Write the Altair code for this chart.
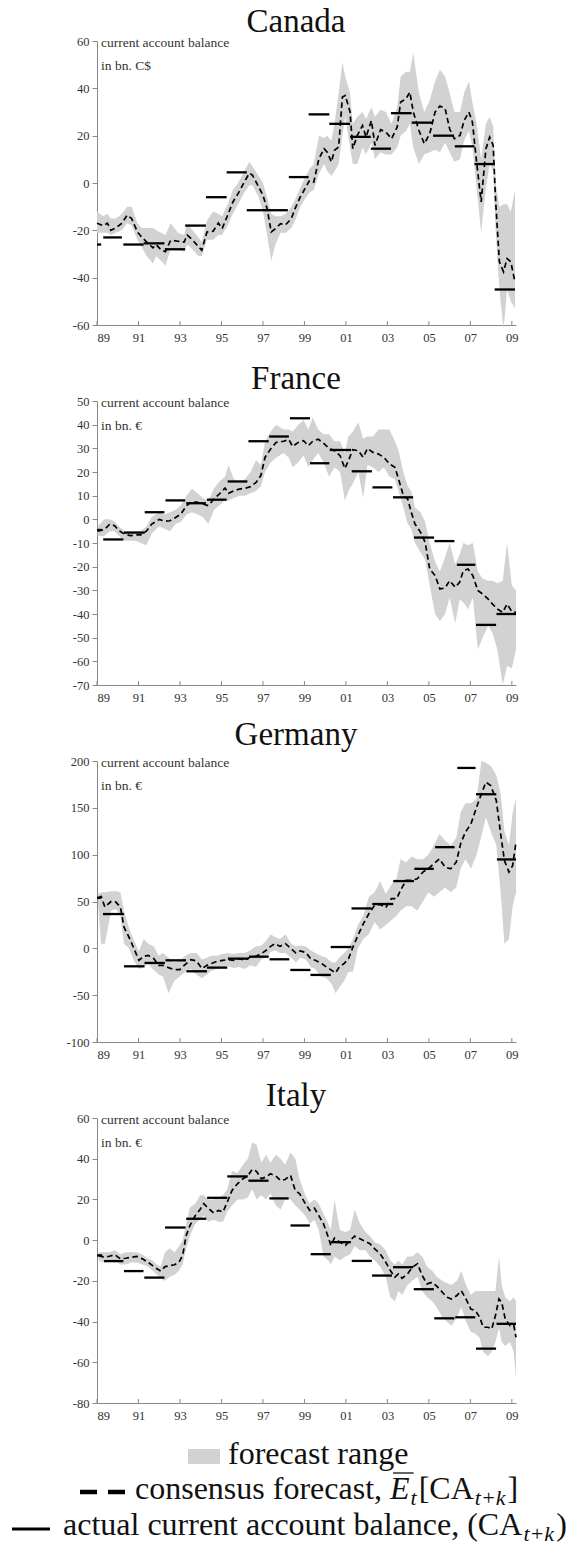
import altair as alt
import pandas as pd

FONT = "Liberation Serif"
BAND = "#d2d2d2"
AXIS_COL = "#888888"
XTICKS = [1989, 1991, 1993, 1995, 1997, 1999, 2001, 2003, 2005, 2007, 2009]
X_MIN, X_MAX = 1989, 2009.2
ANNOT = "current account balance"

# ---------------- Canada ----------------
CAN_T = [1989.0, 1989.3, 1989.5, 1989.67, 1989.9, 1990.2, 1990.45, 1990.67, 1990.95, 1991.15, 1991.4, 1991.7, 1991.85,
         1992.1, 1992.3, 1992.55, 1992.9, 1993.2, 1993.35, 1993.6, 1993.9, 1994.05, 1994.3, 1994.6, 1994.85,
         1995.03, 1995.3, 1995.55, 1995.8, 1996.1, 1996.35, 1996.5, 1996.8, 1997.0, 1997.2, 1997.4, 1997.6, 1997.85,
         1998.1, 1998.37, 1998.55, 1998.8, 1999.07, 1999.25, 1999.45, 1999.7, 1999.95,
         2000.1, 2000.3, 2000.45, 2000.65, 2000.83, 2000.97, 2001.2, 2001.33, 2001.55, 2001.8, 2001.97,
         2002.23, 2002.4, 2002.67, 2002.93, 2003.2, 2003.47, 2003.64, 2003.9, 2004.08, 2004.25, 2004.52, 2004.78,
         2005.04, 2005.3, 2005.53, 2005.78, 2006.0, 2006.23, 2006.5, 2006.7, 2006.93, 2007.1, 2007.3, 2007.52, 2007.75, 2007.93,
         2008.1, 2008.22, 2008.4, 2008.6, 2008.77, 2008.95, 2009.15]
CAN_F = [-17, -18, -17, -20, -19, -17, -13.6, -15, -20.7, -22.8, -25, -27.4, -26,
         -28.4, -29, -24.2, -24.6, -25, -22, -24, -27, -28.4, -20.7, -20.4, -16.9,
         -19.3, -13.6, -8, -4.5, 0.4, 4.2, 3.2, -1.7, -5.2, -10.8, -20.7, -19.3, -17.2,
         -17.6, -15, -10.8, -5.9, -1.7, 1.1, 0.4, 10.3, 14.5,
         13, 8.9, 13.8, 15.2, 36.3, 37, 30, 14.5, 20.1, 24.3, 19.4,
         26.4, 15.9, 22.5, 21.5, 18.7, 23.6, 34.2, 35.6, 38.4, 30, 22.2, 16.6,
         20.8, 30, 32.5, 31.6, 22.9, 18.7, 20.1, 26.4, 30, 25.7, 8.9, -8, 14.5, 19.4,
         15.9, -8, -33.3, -37.5, -31.9, -33.3, -41.8]
CAN_LO = [-21, -21, -21, -22, -21, -20, -17, -18, -24, -27, -31, -34, -31,
          -33, -35, -28, -28, -29, -26, -28, -31, -31, -24, -24, -22,
          -22, -18, -13, -9, -4, -1, -1, -6, -12, -22, -33, -26, -21,
          -21, -19, -16, -10, -6, -4, -3, 4, 8,
          5, 3, 5, 8, 20, 28, 15, 8, 8, 15, 12,
          17, 10, 13, 12, 12, 15, 20, 22, 25, 15, 8, 12,
          13, 14, 13, 17, 13, 9, 10, 18, 22, 15, -2, -21, -2, 8,
          5, -20, -45, -62, -45, -50, -53]
CAN_HI = [-12, -14, -13, -15, -15, -13, -10, -10, -17, -19, -19, -19, -20,
          -21, -22, -17, -21, -22, -17, -20, -23, -25, -16, -12, -13,
          -14, -9, -3, 0, 5, 9, 7, 3, 0, -6, -13, -14, -14,
          -13, -10, -7, -2, 3, 6, 8, 20, 19,
          20, 18, 25, 38, 51, 45, 38, 25, 28, 30, 27,
          32, 28, 31, 30, 25, 32, 45, 47, 47, 55, 38, 30,
          35, 43, 48, 45, 38, 30, 30, 38, 43, 34, 25, 10, 25, 28,
          24, 0, -10, -9, -9, -12, -3]
CAN_S0 = [1989.0, 1989.3, 1990.27, 1991.25, 1992.27, 1993.25, 1994.25, 1995.25, 1996.22, 1997.2, 1998.25,
          1999.2, 2000.2, 2001.2, 2002.2, 2003.17, 2004.17, 2005.2, 2006.25, 2007.2, 2008.17]
CAN_S1 = [1989.2, 1990.2, 1991.25, 1992.25, 1993.25, 1994.25, 1995.25, 1996.22, 1997.2, 1998.2, 1999.2,
          2000.2, 2001.2, 2002.2, 2003.17, 2004.17, 2005.17, 2006.2, 2007.2, 2008.17, 2009.15]
CAN_V = [-26, -23, -26, -25.5, -28, -18, -6, 4.5, -11.5, -11.5, 2.5, 29, 25, 19.5, 14.5, 29.5, 25.5, 20, 15.5, 8, -45]

# ---------------- France ----------------
FRA_T = [1989.03, 1989.35, 1989.62, 1989.85, 1990.06, 1990.32, 1990.6, 1990.85, 1991.1, 1991.38, 1991.64,
         1992.0, 1992.26, 1992.52, 1992.79, 1993.05, 1993.32, 1993.58, 1993.85, 1994.1, 1994.37, 1994.64, 1994.9,
         1995.17, 1995.34, 1995.6, 1995.87, 1996.14, 1996.4, 1996.67, 1996.9, 1997.1, 1997.37, 1997.63, 1997.99,
         1998.25, 1998.43, 1998.7, 1998.96, 1999.19, 1999.4, 1999.66, 1999.93, 2000.19, 2000.45, 2000.72, 2000.95,
         2001.12, 2001.33, 2001.6, 2001.83, 2002.04, 2002.3, 2002.57, 2002.83, 2003.1, 2003.36, 2003.54, 2003.77, 2003.98,
         2004.15, 2004.33, 2004.6, 2004.82, 2005.04, 2005.3, 2005.53, 2005.78, 2006.0, 2006.27, 2006.48, 2006.66, 2006.89,
         2007.12, 2007.36, 2007.59, 2007.86, 2008.07, 2008.3, 2008.56, 2008.77, 2009.0, 2009.2]
FRA_F = [-5, -4.4, -2, -2.7, -4.8, -6.2, -6.9, -6.6, -6.6, -5, -2,
         0, -0.8, -0.6, 0.8, 2.3, 5.8, 7.5, 7.2, 6.5, 5.8, 8.6, 10.7,
         13.2, 11, 12.1, 12.8, 13.1, 13.8, 15.6, 18.5, 26.2, 29.7, 32.5, 33,
         33.7, 30.8, 32.5, 33.2, 31.1, 33, 33.9, 32.1, 30, 29, 26.9, 21.5,
         24.8, 29.4, 29, 26.2, 30, 28.3, 27.6, 26.2, 23.4, 22, 17, 10, 8.6,
         3, -2, -5.5, -9.7, -21, -23.8, -29.4, -29, -25.9, -28.7, -26.6, -21.7, -21,
         -23.8, -30.1, -31.5, -33.7, -35.8, -37.9, -39.3, -35.8, -39, -39.3]
FRA_LO = [-7, -7, -5, -5, -7, -9, -9, -9, -10, -11, -6,
          -3, -4, -5, -2, -1, 2, 3, 2, 1, -2, 4, 6,
          8, 8, 9, 10, 10, 11, 12, 14, 20, 24, 26, 28,
          26, 22, 24, 27, 22, 25, 28, 24, 18, 22, 20, 8,
          12, 15, 20, 9, 23, 22, 20, 22, 18, 17, 12, 5, -2,
          -4, -10, -14, -17, -28, -40, -43, -40, -33, -44, -34, -35, -38,
          -33, -55, -50, -45, -48, -55, -70, -62, -63, -55]
FRA_HI = [-3, 0, 0, -1, -3, -5, -5, -5, -5, -3, 1,
          3, 2, 3, 4, 6, 10, 13, 11, 9, 8, 13, 16,
          18, 23, 17, 16, 17, 20, 25, 23, 33, 37, 40, 38,
          38, 37, 40, 42, 38, 43, 38, 36, 36, 33, 33, 28,
          35, 37, 41, 34, 35, 35, 38, 38, 38, 33, 29, 20, 14,
          12, 5, 3, -1, -10, -18, -22, -16, -10, -19, -15, -10, -11,
          -10, -22, -25, -26, -26, -27, -26, -10, -28, -30]
FRA_S0 = [1989.0, 1989.3, 1990.3, 1991.3, 1992.3, 1993.3, 1994.3, 1995.3, 1996.3, 1997.3, 1998.3,
          1999.27, 2000.22, 2001.28, 2002.28, 2003.27, 2004.28, 2005.27, 2006.35, 2007.27, 2008.26]
FRA_S1 = [1989.25, 1990.27, 1991.3, 1992.25, 1993.25, 1994.25, 1995.25, 1996.25, 1997.28, 1998.25, 1999.27,
          2000.2, 2001.25, 2002.25, 2003.24, 2004.24, 2005.25, 2006.23, 2007.24, 2008.24, 2009.2]
FRA_V = [-4.5, -8.5, -5.6, 3, 8, 6.8, 8.3, 16, 33, 35, 42.7, 23.7, 29.3, 20.3, 13.5, 9.3, -7.7, -9.2, -19.2, -44.6, -40]

# ---------------- Germany ----------------
GER_T = [1989.05, 1989.2, 1989.38, 1989.68, 1989.91, 1990.13, 1990.3, 1990.54, 1990.75,
         1991.02, 1991.25, 1991.47, 1991.74, 1991.97, 1992.18, 1992.45, 1992.72, 1992.99,
         1993.26, 1993.53, 1993.79, 1994.06, 1994.3, 1994.51, 1994.78, 1995.05, 1995.31, 1995.58, 1995.85,
         1996.12, 1996.39, 1996.66, 1996.92, 1997.16, 1997.37, 1997.59, 1997.82, 1998.09, 1998.36, 1998.59, 1998.8,
         1999.07, 1999.3, 1999.52, 1999.79, 2000.06, 2000.32, 2000.5, 2000.68, 2000.91,
         2001.13, 2001.34, 2001.58, 2001.84, 2002.11, 2002.38, 2002.65, 2002.92,
         2003.19, 2003.45, 2003.63, 2003.9, 2004.17, 2004.44, 2004.71, 2004.97, 2005.24, 2005.51, 2005.78,
         2006.05, 2006.32, 2006.53, 2006.76, 2007.03, 2007.3, 2007.53, 2007.75, 2007.98,
         2008.25, 2008.46, 2008.64, 2008.86, 2009.04, 2009.2]
GER_F = [53.7, 55.4, 44, 50, 49.4, 44, 22.7, 12, 1.4,
         -12.8, -8.5, -7.5, -11, -18.1, -18.1, -20.6, -22.7, -22.7,
         -17.1, -12, -13.5, -21.7, -18.1, -16.3, -13.9, -12.8, -12.1, -12.8, -11,
         -12.8, -9.2, -8.5, -5.7, -2.1, 2.1, 5, 2.1, 5, -0.4, -5, -2.8,
         -4.6, -11, -12.8, -15.6, -19.9, -23.5, -26.3, -19.9, -16.3,
         -11, 1.4, 13.9, 26.3, 37, 45.8, 46.9, 43.4,
         53, 53, 61.8, 72.5, 72.5, 74.3, 81.4, 84.9, 90.3, 95.6, 86.7,
         84.9, 92, 111.6, 124, 133, 150.7, 164.9, 177.3, 173.8,
         157.8, 122.2, 93.8, 81.4, 88.5, 113.4]
GER_LO = [48, 5, 5, 40, 42, 35, 5, 0, -12,
          -22, -20, -17, -23, -28, -30, -48, -35, -30,
          -25, -22, -28, -32, -28, -24, -22, -20, -19, -21, -20,
          -22, -18, -20, -12, -10, -4, -2, -5, -5, -10, -15, -10,
          -12, -20, -22, -30, -32, -38, -48, -42, -35,
          -25, -25, 0, 10, 15, 28, 20, 25,
          30, 35, 40, 45, 45, 40, 50, 60, 55, 60, 65,
          60, 65, 85, 95, 85, 100, 120, 140, 125,
          110, 60, 5, 10, 45, 60]
GER_HI = [58, 60, 60, 61, 61, 60, 40, 22, 10,
          -3, 10, 5, 2, -8, -5, -10, -15, -13,
          -8, -5, -5, -12, -10, -8, -8, -6, -5, -6, -5,
          -5, -2, 2, 3, 8, 15, 12, 10, 15, 5, 2, 3,
          2, -2, -5, -8, -10, -15, -15, -10, -5,
          0, 10, 25, 35, 55, 60, 72, 58,
          68, 75, 95, 92, 98, 95, 95, 100, 110, 122, 115,
          110, 118, 145, 155, 155, 160, 200, 198, 195,
          185, 165, 125, 110, 145, 160]
GER_S0 = [1989.0, 1989.29, 1990.3, 1991.29, 1992.3, 1993.31, 1994.3, 1995.31, 1996.33, 1997.32, 1998.32,
          1999.29, 2000.27, 2001.27, 2002.27, 2003.28, 2004.3, 2005.3, 2006.37, 2007.27, 2008.28]
GER_S1 = [1989.2, 1990.3, 1991.29, 1992.27, 1993.29, 1994.3, 1995.28, 1996.3, 1997.28, 1998.27, 1999.29,
          2000.27, 2001.27, 2002.24, 2003.28, 2004.28, 2005.24, 2006.24, 2007.25, 2008.25, 2009.2]
GER_V = [54, 36.6, -19.2, -15.6, -12.8, -24.5, -20.6, -11, -8.9, -11.7, -23.1, -28.4, 1.4, 42.6, 47.3, 71.8, 84.9,
         108, 192.6, 164.5, 94.9]

# ---------------- Italy ----------------
ITA_T = [1989.07, 1989.34, 1989.6, 1989.86, 1990.13, 1990.39, 1990.66, 1990.92,
         1991.19, 1991.45, 1991.68, 1991.89, 1992.07, 1992.28, 1992.51, 1992.74, 1992.95,
         1993.13, 1993.3, 1993.48, 1993.74, 1993.97, 1994.15, 1994.36, 1994.63, 1994.86,
         1995.07, 1995.28, 1995.51, 1995.77, 1996.04, 1996.27, 1996.48, 1996.69, 1996.92,
         1997.15, 1997.36, 1997.62, 1997.85, 1998.07, 1998.33, 1998.56, 1998.77,
         1999.04, 1999.26, 1999.48, 1999.69, 1999.92, 2000.15, 2000.27, 2000.45, 2000.71, 2000.98,
         2001.2, 2001.42, 2001.68, 2001.95, 2002.16, 2002.39, 2002.65, 2002.92,
         2003.14, 2003.36, 2003.53, 2003.71, 2003.97, 2004.2, 2004.45, 2004.68, 2004.91,
         2005.16, 2005.38, 2005.65, 2005.86, 2006.09, 2006.35, 2006.56, 2006.79,
         2007.02, 2007.24, 2007.45, 2007.62, 2007.85, 2008.03, 2008.21, 2008.38, 2008.51, 2008.68, 2008.91,
         2009.09, 2009.2]
ITA_F = [-7.5, -8.4, -7.9, -7.2, -9.2, -8.9, -8.4, -8,
         -9.2, -10.8, -12.5, -14.1, -15.2, -13, -12.5, -12.1, -10.8,
         -7.5, 2.3, 7.2, 12.1, 15.1, 17.9, 15.7, 13.3, 14.6,
         13.8, 18.7, 24.4, 27.7, 30.2, 31.5, 34.8, 33.8, 30.2,
         31, 32.6, 31.5, 29.3, 29.8, 31.8, 24.4, 22.8,
         17.9, 14.6, 15.7, 12.1, 8, 1.5, -2.6, 1, -1, -2.6,
         -0.2, 2, 0.7, -0.7, -1.8, -4.3, -6.7, -10.8,
         -14.9, -18.2, -16.6, -18.7, -16.6, -13.3, -11.6, -17.4, -21.5,
         -20.7, -22.6, -25.6, -28, -28.9, -27.2, -24.8, -28.9,
         -33.8, -34.6, -37.9, -42.8, -42.8, -43.6, -37, -28.9, -30.5, -38.7, -42,
         -41.6, -47.7]
ITA_LO = [-10, -11, -10, -10, -12, -12, -11, -11,
          -12, -13, -15, -17, -19, -20, -18, -17, -15,
          -12, -4, 2, 8, 10, 12, 9, 10, 9,
          9, 14, 17, 20, 20, 21, 25, 20, 22,
          20, 23, 17, 15, 20, 20, 17, 15,
          12, 8, 10, 5, -8, -10, -12, -8, -10, -8,
          -7, -3, -5, -5, -8, -10, -13, -18,
          -28, -30, -25, -27, -22, -20, -18, -25, -28,
          -30, -33, -38, -40, -42, -38, -33, -40,
          -45, -46, -48, -55, -57, -55, -50, -43, -50, -52, -50,
          -55, -68]
ITA_HI = [-6, -6, -6, -5, -7, -6, -6, -6,
          -7, -9, -10, -12, -13, -6, -4, -6, -3,
          0, 8, 16, 18, 22, 22, 20, 20, 21,
          22, 25, 34, 33, 37, 40, 48, 47, 38,
          42, 38, 42, 40, 37, 43, 40, 30,
          22, 18, 20, 18, 13, 8, 5, 20, 5, 4,
          5, 15, 8, 4, 2, -1, -2, -5,
          -10, -12, -10, -12, -8, -8, -6, -8, -13,
          -15, -18, -20, -21, -22, -20, -15, -22,
          -27, -25, -25, -25, -25, -25, -25, -8, -22, -28, -30,
          -28, -30]
ITA_S0 = [1989.0, 1989.34, 1990.3, 1991.28, 1992.28, 1993.3, 1994.31, 1995.28, 1996.3, 1997.31, 1998.33,
          1999.3, 2000.27, 2001.28, 2002.26, 2003.27, 2004.27, 2005.26, 2006.27, 2007.27, 2008.26]
ITA_S1 = [1989.25, 1990.27, 1991.24, 1992.25, 1993.27, 1994.27, 1995.28, 1996.27, 1997.27, 1998.24, 1999.26,
          2000.27, 2001.24, 2002.25, 2003.22, 2004.24, 2005.24, 2006.23, 2007.24, 2008.24, 2009.2]
ITA_V = [-7.5, -10.3, -15.2, -18.4, 6.2, 10.5, 20.8, 31.3, 29.2, 20.5, 7.2, -6.9, -1, -10.2, -17.4, -13.3, -24.1,
         -38.4, -37.9, -53.3, -41.1]

COUNTRIES = ["Canada", "France", "Germany", "Italy"]
UNITS = ["in bn. C$", "in bn. \u20ac", "in bn. \u20ac", "in bn. \u20ac"]
Y_DOMAINS = [[-60, 60], [-70, 50], [-100, 200], [-80, 60]]
Y_STEPS = [20, 10, 50, 20]
HEIGHTS = [284, 284, 281, 285]
TITLE_GAP = [9, 12, 16, 12]
W = 419

one = pd.DataFrame({"k": [0]})


def panel(title, unit, t, f, lo, hi, s0, s1, v, ydom, ystep, h, gap):
    df = pd.DataFrame({"t": t, "f": f, "lo": lo, "hi": hi})
    seg = pd.DataFrame({"s0": s0, "s1": s1, "v": v})
    xs = alt.Scale(domain=[X_MIN, X_MAX], nice=False, zero=False)
    ys = alt.Scale(domain=ydom, nice=False, zero=False)
    yvals = list(range(ydom[0], ydom[1] + 1, ystep))
    xaxis = alt.Axis(values=XTICKS, labelExpr="slice(toString(datum.value), 2)", ticks=False,
                     labelPadding=6, title=None, grid=False)
    yaxis = alt.Axis(values=yvals, labelExpr="toString(datum.value)", title=None, grid=False,
                     tickSize=5, labelPadding=3)
    band = alt.Chart(df).mark_area(color=BAND, opacity=1).encode(
        x=alt.X("t:Q", scale=xs, axis=xaxis),
        y=alt.Y("lo:Q", scale=ys, axis=yaxis),
        y2="hi:Q")
    line = alt.Chart(df).mark_line(color="black", strokeDash=[5.5, 3.5], strokeWidth=1.7).encode(
        x=alt.X("t:Q", scale=xs, axis=xaxis),
        y=alt.Y("f:Q", scale=ys, axis=yaxis))
    segs = alt.Chart(seg).mark_rule(color="black", strokeWidth=2.3).encode(
        x=alt.X("s0:Q", scale=xs, axis=xaxis), x2="s1:Q",
        y=alt.Y("v:Q", scale=ys, axis=yaxis))
    ticks = alt.Chart(pd.DataFrame({"yr": XTICKS})).mark_rule(color=AXIS_COL, strokeWidth=1).encode(
        x=alt.X("yr:Q", scale=xs, axis=xaxis), y=alt.value(h), y2=alt.value(h - 4))
    ann1 = alt.Chart(one).mark_text(font=FONT, fontSize=13.5, align="left", baseline="middle", color="#333").encode(
        x=alt.value(4), y=alt.value(2), text=alt.value(ANNOT))
    ann2 = alt.Chart(one).mark_text(font=FONT, fontSize=13.5, align="left", baseline="middle", color="#333").encode(
        x=alt.value(4), y=alt.value(25), text=alt.value(unit))
    ttl = alt.Chart(one).mark_text(font=FONT, fontSize=33, align="center", baseline="alphabetic", color="#111").encode(
        x=alt.value(199), y=alt.value(-gap), text=alt.value(title))
    return alt.layer(band, line, segs, ticks, ann1, ann2, ttl).properties(width=W, height=h)


DATA = [
    (CAN_T, CAN_F, CAN_LO, CAN_HI, CAN_S0, CAN_S1, CAN_V),
    (FRA_T, FRA_F, FRA_LO, FRA_HI, FRA_S0, FRA_S1, FRA_V),
    (GER_T, GER_F, GER_LO, GER_HI, GER_S0, GER_S1, GER_V),
    (ITA_T, ITA_F, ITA_LO, ITA_HI, ITA_S0, ITA_S1, ITA_V),
]
panels = [panel(COUNTRIES[i], UNITS[i], *DATA[i], Y_DOMAINS[i], Y_STEPS[i], HEIGHTS[i], TITLE_GAP[i])
          for i in range(4)]

# ---------------- legend ----------------
LEG_RANGE = "forecast range"
LEG_CONS = "consensus forecast, "
LEG_ACT = "actual current account balance, (CA"
LEG_FS = 32
SUB_FS = 22
TW = {"a": 444, "b": 500, "c": 444, "e": 444, "f": 333, "g": 500, "l": 278, "n": 500, "o": 500, "r": 333,
      "s": 389, "t": 278, "u": 500, " ": 250, ",": 250, "(": 333, ")": 333, "[": 333, "]": 333, "C": 667, "A": 722}
TWI = {"E": 611, "t": 278, "+": 675, "k": 444}


def tw(s, size, italic=False):
    table = TWI if italic else TW
    return sum(table.get(c, 500) for c in s) * size / 1000.0


def txt(s, x, y, size, italic=False):
    return alt.Chart(one).mark_text(font=FONT, fontSize=size, align="left", baseline="alphabetic",
                                    color="#111", fontStyle="italic" if italic else "normal").encode(
        x=alt.value(x), y=alt.value(y), text=alt.value(s))


layers = []
# line 1
layers.append(alt.Chart(one).mark_rect(color=BAND).encode(
    x=alt.value(91), x2=alt.value(123), y=alt.value(-30), y2=alt.value(-15)))
layers.append(txt(LEG_RANGE, 131, -15, LEG_FS))
# line 2
layers.append(alt.Chart(one).mark_rule(color="black", strokeWidth=4.5, strokeDash=[17, 11]).encode(
    x=alt.value(-17), x2=alt.value(28), y=alt.value(13)))
bx = 38
by = 20
layers.append(txt(LEG_CONS, bx, by, LEG_FS))
xE = bx + tw(LEG_CONS, LEG_FS)
layers.append(txt("E", xE, by, LEG_FS, True))
wE = tw("E", LEG_FS, True)
layers.append(alt.Chart(one).mark_rule(color="#111", strokeWidth=1.3).encode(
    x=alt.value(xE + 3), x2=alt.value(xE + wE + 4), y=alt.value(by - 26)))
xt = xE + wE + 1
layers.append(txt("t", xt, by + 6, SUB_FS, True))
xb = xt + tw("t", SUB_FS, True) + 2
layers.append(txt("[CA", xb, by, LEG_FS))
xs2 = xb + tw("[CA", LEG_FS) + 1
layers.append(txt("t+k", xs2, by + 6, SUB_FS, True))
layers.append(txt("]", xs2 + tw("t+k", SUB_FS, True) + 2, by, LEG_FS))
# line 3
layers.append(alt.Chart(one).mark_rule(color="black", strokeWidth=3).encode(
    x=alt.value(-85), x2=alt.value(-47), y=alt.value(50)))
cx = -34
cy = 56
layers.append(txt(LEG_ACT, cx, cy, LEG_FS))
xs3 = cx + tw(LEG_ACT, LEG_FS) + 1
layers.append(txt("t+k", xs3, cy + 6, SUB_FS, True))
layers.append(txt(")", xs3 + tw("t+k", SUB_FS, True) + 2, cy, LEG_FS))

legend = alt.layer(*layers).properties(width=W, height=40)

chart = alt.vconcat(*panels, legend, spacing=76, bounds="flush").configure_view(
    stroke=None
).configure_axis(
    labelFont=FONT, labelFontSize=12.5, labelColor="#333", domainColor=AXIS_COL, tickColor=AXIS_COL,
    domainWidth=1, tickWidth=1
).properties(padding={"left": 2, "top": -2, "right": 0, "bottom": 0})

chart.save("out.html", embed_options={"renderer": "svg", "actions": False})
